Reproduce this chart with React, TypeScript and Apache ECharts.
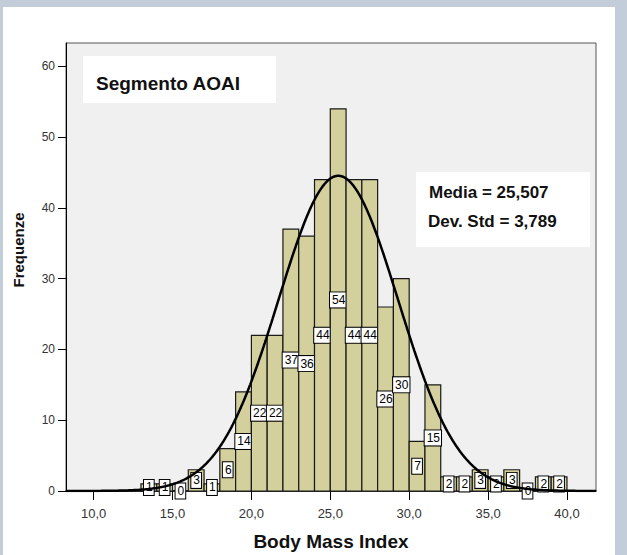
import React, { useEffect, useRef } from "react";
import * as echarts from "echarts";

// ---- data ----
const BIN_START = [13, 14, 15, 16, 17, 18, 19, 20, 21, 22, 23, 24, 25, 26, 27, 28, 29, 30, 31, 32, 33, 34, 35, 36, 37, 38, 39];
const COUNTS = [1, 1, 0, 3, 1, 6, 14, 22, 22, 37, 36, 44, 54, 44, 44, 26, 30, 7, 15, 2, 2, 3, 2, 3, 0, 2, 2];
const BIN_WIDTH = 1;
const X_TICKS = [10, 15, 20, 25, 30, 35, 40];
const Y_TICKS = [0, 10, 20, 30, 40, 50, 60];
const MEAN = 25.507;
const SD = 3.789;
const TITLE = "Segmento AOAI";
const STAT_LINES = ["Media = 25,507", "Dev. Std = 3,789"];
const X_NAME = "Body Mass Index";
const Y_NAME = "Frequenze";
const X_MIN = 8.25;
const X_MAX = 41.84;
const Y_MAX = 63.3;

const FONT = "'Liberation Sans', Arial, Helvetica, sans-serif";

export default function App() {
  const ref = useRef<HTMLDivElement>(null);

  useEffect(() => {
    if (!ref.current) return;
    const chart = echarts.init(ref.current, null, { renderer: "svg", width: 627, height: 555 });

    const N = COUNTS.reduce((a, b) => a + b, 0);
    const histData = BIN_START.map((s, i) => [s, s + BIN_WIDTH, COUNTS[i]]);
    const curve: number[][] = [];
    for (let k = 0; k <= 400; k++) {
      const x = X_MIN + ((X_MAX - X_MIN) * k) / 400;
      const z = (x - MEAN) / SD;
      curve.push([x, ((N * BIN_WIDTH) / (SD * Math.sqrt(2 * Math.PI))) * Math.exp(-0.5 * z * z)]);
    }

    const option: any = {
      animation: false,
      backgroundColor: "#ffffff",
      textStyle: { fontFamily: FONT },
      graphic: [
        { type: "rect", z: -10, shape: { x: 0, y: 0, width: 627, height: 555 }, style: { fill: "#c3ccd9" } },
        { type: "rect", z: -9, shape: { x: 3, y: 7, width: 612, height: 548 }, style: { fill: "#ffffff" } },
        {
          type: "text",
          z: 100,
          x: 18.5,
          y: 250,
          rotation: Math.PI / 2,
          style: {
            text: Y_NAME,
            fontSize: 15,
            fontWeight: "bold",
            fill: "#111",
            fontFamily: FONT,
            align: "center",
            verticalAlign: "middle",
          },
        },
        {
          type: "group",
          z: 100,
          children: [
            { type: "rect", shape: { x: 83, y: 56, width: 193, height: 47 }, style: { fill: "#ffffff" } },
            {
              type: "text",
              x: 96,
              y: 83,
              style: { text: TITLE, fontSize: 19, fontWeight: "bold", fill: "#111", fontFamily: FONT, verticalAlign: "middle" },
            },
            { type: "rect", shape: { x: 416, y: 172, width: 174, height: 75 }, style: { fill: "#ffffff" } },
            {
              type: "text",
              x: 429,
              y: 192,
              style: { text: STAT_LINES[0], fontSize: 17, fontWeight: "bold", fill: "#111", fontFamily: FONT, verticalAlign: "middle" },
            },
            {
              type: "text",
              x: 428,
              y: 221,
              style: { text: STAT_LINES[1], fontSize: 17, fontWeight: "bold", fill: "#111", fontFamily: FONT, verticalAlign: "middle" },
            },
          ],
        },
      ],
      grid: {
        left: 66,
        right: 31,
        top: 43,
        bottom: 64,
        outerBoundsMode: "none",
        containLabel: false,
        show: true,
        backgroundColor: "#f0f0f0",
        borderColor: "#555",
        borderWidth: 1,
      },
      xAxis: {
        type: "value",
        min: X_MIN,
        max: X_MAX,
        splitLine: { show: false },
        axisLine: { show: true, onZero: false, lineStyle: { color: "#000", width: 1.5 } },
        axisTick: { show: true, customValues: X_TICKS, length: 9, lineStyle: { color: "#000", width: 1 } },
        axisLabel: {
          customValues: X_TICKS,
          formatter: (v: number) => v.toFixed(1).replace(".", ","),
          fontSize: 13,
          color: "#333",
          margin: 16,
          fontFamily: FONT,
        },
        name: X_NAME,
        nameLocation: "middle",
        nameGap: 41,
        nameTextStyle: { fontWeight: "bold", fontSize: 19, color: "#111", fontFamily: FONT },
      },
      yAxis: {
        type: "value",
        min: 0,
        max: Y_MAX,
        splitLine: { show: false },
        axisLine: { show: true, lineStyle: { color: "#000", width: 1 } },
        axisTick: { show: true, customValues: Y_TICKS, length: 8, lineStyle: { color: "#000", width: 1 } },
        axisLabel: { customValues: Y_TICKS, fontSize: 12, color: "#333", margin: 11, fontFamily: FONT },
      },
      series: [
        {
          type: "custom",
          clip: false,
          z: 2,
          data: histData,
          encode: { x: [0, 1], y: 2 },
          renderItem: (params: any, api: any) => {
            const lo = api.value(0);
            const hi = api.value(1);
            const c = api.value(2);
            const p0 = api.coord([lo, c]);
            const p1 = api.coord([hi, 0]);
            const children: any[] = [];
            if (c > 0) {
              children.push({
                type: "rect",
                shape: { x: p0[0], y: p0[1], width: p1[0] - p0[0], height: p1[1] - p0[1] },
                style: { fill: "#d4d09e", stroke: "#1a1a1a", lineWidth: 1.2 },
              });
            }
            const mid = api.coord([(lo + hi) / 2, c / 2]);
            children.push({
              type: "text",
              x: mid[0],
              y: mid[1],
              style: {
                text: String(c),
                align: "center",
                verticalAlign: "middle",
                fontSize: 12,
                fill: "#000",
                fontFamily: FONT,
                backgroundColor: "#ffffff",
                borderColor: "#000",
                borderWidth: 1,
                padding: [2, 1, 1, 2],
              },
            });
            return { type: "group", children };
          },
        },
        {
          type: "line",
          z: 5,
          data: curve,
          showSymbol: false,
          smooth: false,
          clip: true,
          lineStyle: { color: "#000", width: 2.5 },
        },
      ],
    };

    chart.setOption(option);
    return () => chart.dispose();
  }, []);

  return <div ref={ref} style={{ position: "absolute", left: 0, top: 0, width: 627, height: 555 }} />;
}
